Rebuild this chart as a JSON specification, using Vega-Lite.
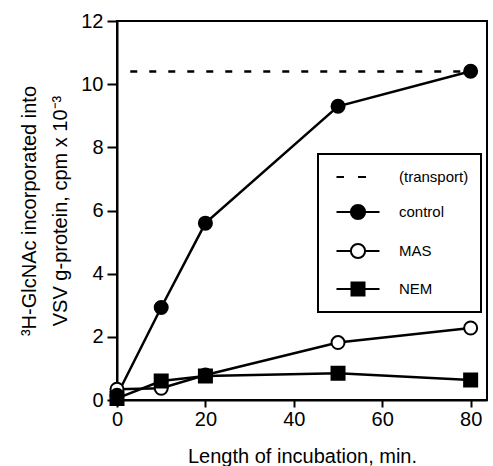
{
  "$schema": "https://vega.github.io/schema/vega-lite/v6.json",
  "autosize": "none",
  "padding": {"left": 117, "top": 21, "right": 6, "bottom": 66},
  "width": 370,
  "height": 379,
  "background": "white",
  "config": {
    "font": "Liberation Sans",
    "view": {"stroke": "black", "strokeWidth": 2},
    "axis": {
      "grid": false,
      "domainColor": "black",
      "domainWidth": 2,
      "tickColor": "black",
      "tickWidth": 2,
      "labelColor": "black",
      "labelFont": "Liberation Sans",
      "labelFontSize": 20,
      "titleFont": "Liberation Sans",
      "titleFontSize": 20,
      "titleFontWeight": "normal",
      "titleColor": "black"
    },
    "legend": {
      "strokeColor": "black",
      "strokeWidth": 2,
      "fillColor": "white",
      "labelFont": "Liberation Sans",
      "labelFontSize": 15,
      "labelColor": "black"
    }
  },
  "data": {
    "values": [
      {"series": "(transport)", "t": 3, "v": 10.4},
      {"series": "(transport)", "t": 79, "v": 10.4},
      {"series": "control", "t": 0, "v": 0.15},
      {"series": "control", "t": 10, "v": 2.93},
      {"series": "control", "t": 20, "v": 5.6},
      {"series": "control", "t": 50, "v": 9.3},
      {"series": "control", "t": 80, "v": 10.41},
      {"series": "MAS", "t": 0, "v": 0.34},
      {"series": "MAS", "t": 10, "v": 0.37},
      {"series": "MAS", "t": 20, "v": 0.79},
      {"series": "MAS", "t": 50, "v": 1.82},
      {"series": "MAS", "t": 80, "v": 2.28},
      {"series": "NEM", "t": 0, "v": 0.05},
      {"series": "NEM", "t": 10, "v": 0.6},
      {"series": "NEM", "t": 20, "v": 0.76},
      {"series": "NEM", "t": 50, "v": 0.85},
      {"series": "NEM", "t": 80, "v": 0.63}
    ]
  },
  "encoding": {
    "x": {
      "field": "t", "type": "quantitative",
      "scale": {"domain": [0, 83.7], "nice": false, "zero": false},
      "axis": {"values": [0, 20, 40, 60, 80], "tickSize": 7, "labelPadding": 2, "title": "Length of incubation, min.", "titlePadding": 17, "labelFlush": false}
    },
    "y": {
      "field": "v", "type": "quantitative",
      "scale": {"domain": [0, 12], "nice": false},
      "axis": {"values": [0, 2, 4, 6, 8, 10, 12], "tickSize": 10, "labelPadding": 4, "title": ["³H-GlcNAc incorporated into", "VSV g-protein, cpm x 10⁻³"], "titleLineHeight": 31, "titlePadding": 10, "labelFlush": false}
    }
  },
  "layer": [
    {
      "transform": [{"filter": "datum.series === '(transport)'"}],
      "mark": {"type": "line", "color": "black", "strokeWidth": 2.5, "strokeDash": [7, 12]},
      "encoding": {}
    },
    {
      "transform": [{"filter": "datum.series !== '(transport)'"}],
      "mark": {"type": "line", "color": "black", "strokeWidth": 2.5},
      "encoding": {"detail": {"field": "series"}}
    },
    {
      "transform": [{"filter": "datum.series === 'MAS'"}],
      "mark": {"type": "point", "shape": "circle", "filled": true, "fill": "white", "stroke": "black", "strokeWidth": 2, "size": 169, "opacity": 1},
      "encoding": {}
    },
    {
      "transform": [{"filter": "datum.series === 'control'"}],
      "mark": {"type": "point", "shape": "circle", "filled": true, "fill": "black", "stroke": "black", "strokeWidth": 2, "size": 169, "opacity": 1},
      "encoding": {}
    },
    {
      "transform": [{"filter": "datum.series === 'NEM'"}],
      "mark": {"type": "point", "shape": "square", "filled": true, "fill": "black", "stroke": "black", "strokeWidth": 2, "size": 169, "opacity": 1},
      "encoding": {}
    },
    {
      "transform": [{"filter": "datum.t < 0"}],
      "mark": {"type": "point", "filled": true, "stroke": "black", "strokeWidth": 2, "opacity": 1},
      "encoding": {
        "fill": {
          "field": "series", "type": "nominal",
          "scale": {"domain": ["(transport)", "control", "MAS", "NEM"], "range": ["black", "black", "white", "black"]}
        },
        "shape": {
          "field": "series", "type": "nominal",
          "scale": {"domain": ["(transport)", "control", "MAS", "NEM"], "range": [
            "M-2.15,0L-1.4,0M0,0L0.8,0",
            "M-2.15,0L-0.71,0M0.71,0L2.15,0M0.71,0A0.71,0.71,0,1,1,-0.71,0A0.71,0.71,0,1,1,0.71,0Z",
            "M-2.15,0L-0.71,0M0.71,0L2.15,0M0.71,0A0.71,0.71,0,1,1,-0.71,0A0.71,0.71,0,1,1,0.71,0Z",
            "M-2.15,0L-0.65,0M0.65,0L2.15,0M-0.65,-0.65L0.65,-0.65L0.65,0.65L-0.65,0.65Z"
          ]},
          "legend": {
            "title": null,
            "orient": "none",
            "legendX": 201,
            "legendY": 133,
            "padding": 12,
            "symbolOffset": 17,
            "symbolSize": 400,
            "labelOffset": 30,
            "rowPadding": 15,
            "symbolStrokeWidth": 2
          }
        }
      }
    }
  ]
}
